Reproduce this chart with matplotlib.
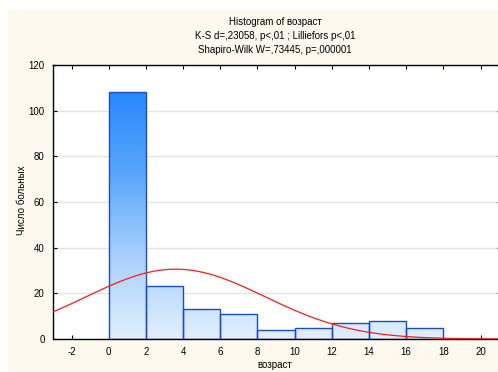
import numpy as np
import matplotlib.pyplot as plt
from matplotlib.colors import LinearSegmentedColormap
from matplotlib.patches import Rectangle

plt.rcParams['font.family'] = ['Liberation Sans', 'DejaVu Sans']
plt.rcParams['axes.unicode_minus'] = False

# histogram bins (age) and counts
bin_edges = [0, 2, 4, 6, 8, 10, 12, 14, 16, 18]
counts = [108, 23, 13, 11, 4, 5, 7, 8, 5]

# fitted normal curve parameters
fit_mean = 3.6
fit_sd = 4.8
n_total = sum(counts)

x_ticks = [-2, 0, 2, 4, 6, 8, 10, 12, 14, 16, 18, 20]
y_ticks = [0, 20, 40, 60, 80, 100, 120]

fig = plt.figure(figsize=(4.98, 3.72), dpi=100, facecolor='white')
# cream panel behind everything
bg = Rectangle((8 / 498, 0), 1, 1 - 10 / 372, transform=fig.transFigure,
               facecolor='#fdf9ee', edgecolor='none', zorder=-10)
fig.add_artist(bg)

# right edge of the plot runs just past the picture
ax = fig.add_axes([53 / 498, 33 / 372, 448 / 498, 274 / 372])
ax.set_zorder(1)
ax.set_facecolor('white')

cmap = LinearSegmentedColormap.from_list('bars', ['#e2effd', '#a9d0fb', '#5aa6fb', '#2a88fb'])
grad = np.linspace(0, 1, 256).reshape(-1, 1)

widths = np.diff(bin_edges)
bars = ax.bar(bin_edges[:-1], counts, width=widths, align='edge',
              facecolor='none', edgecolor='#1a4cc8', linewidth=1.0, zorder=3)
for b in bars:
    im = ax.imshow(grad, cmap=cmap, origin='lower', aspect='auto',
                   extent=(-3, 21, 0, max(counts)), zorder=2)
    im.set_clip_path(b)

xs = np.linspace(-3, 21.2, 400)
bw = widths[0]
ys = n_total * bw / (fit_sd * np.sqrt(2 * np.pi)) * np.exp(-0.5 * ((xs - fit_mean) / fit_sd) ** 2)
ax.plot(xs, ys, color='#ff1a1a', linewidth=0.9, zorder=4)

ax.set_xlim(-3, 21.1)
ax.set_ylim(0, 120)
ax.set_xticks(x_ticks)
ax.set_yticks(y_ticks)
ax.yaxis.grid(True, color='#e4e4e4', linewidth=1.0, zorder=0)
ax.set_axisbelow(True)
ax.tick_params(direction='in', length=3, width=0.8, labelsize=7, top=True, right=True, pad=6)
for s in ax.spines.values():
    s.set_linewidth(1.0)
    s.set_color('black')

fig.text(275 / 498, 1 - 365 / 372, 'возраст', ha='center', va='center', fontsize=7)
fig.text(22 / 498, 1 - 200 / 372, 'Число больных', ha='center', va='center', fontsize=7, rotation=90)

fig.text(275 / 498, 1 - 22 / 372, 'Histogram of возраст', ha='center', va='center', fontsize=7)
fig.text(275 / 498, 1 - 36 / 372, 'K-S d=,23058, p<,01 ; Lilliefors p<,01', ha='center', va='center', fontsize=7)
fig.text(275 / 498, 1 - 50 / 372, 'Shapiro-Wilk W=,73445, p=,000001', ha='center', va='center', fontsize=7)

fig.savefig('out.png', dpi=100, facecolor=fig.get_facecolor())
